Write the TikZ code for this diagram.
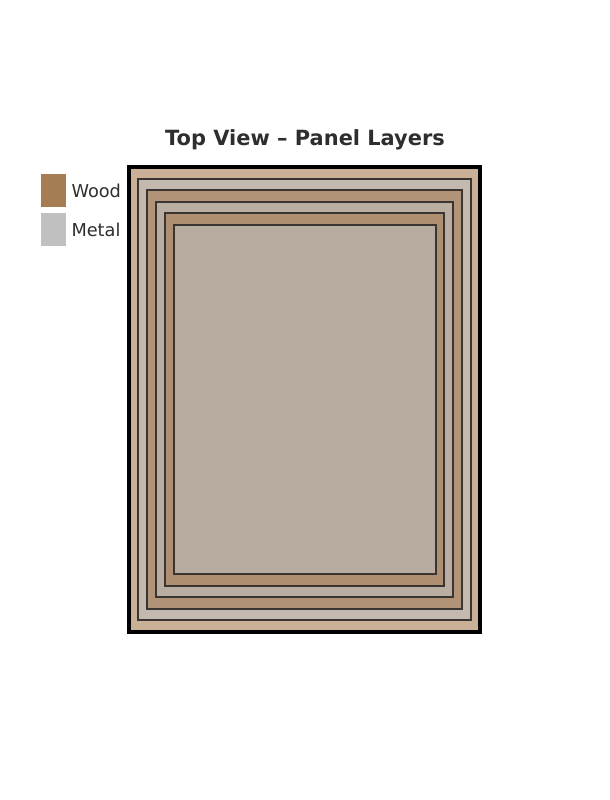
\documentclass[tikz,border=0pt]{standalone}
\usepackage{fontspec}
\setmainfont{DejaVu Sans}
\usetikzlibrary{positioning}
\definecolor{wood}{HTML}{A67C52}
\definecolor{metal}{HTML}{C0C0C0}
\definecolor{ink}{HTML}{2E2E2E}
\definecolor{rim}{HTML}{3A3530}
\begin{document}
\begin{tikzpicture}[x=0.75pt, y=-0.75pt, line join=miter,
	key/.style={minimum width=18.75pt, minimum height=24.75pt, inner sep=0pt},
	keytext/.style={text=ink, font=\fontsize{13.3}{16}\selectfont, inner sep=0pt, anchor=west}]
	\useasboundingbox (0,0) rectangle (610,800);
	\def\sx{8.9} % Bước lớp ngang
	\def\sy{11.6} % Bước lớp dọc
	\coordinate (A) at (129,167); % Góc trên trái
	\coordinate (B) at (480,632); % Góc dưới phải
	\node[text=ink, font=\bfseries\fontsize{15.7}{19}\selectfont, anchor=base] (title) at (305,145) {Top View – Panel Layers};
	\foreach \i/\lop in {0/wood,1/metal,2/wood,3/metal,4/wood,5/metal}
		\filldraw[fill=\lop, fill opacity=.6, draw=rim, line width=1.5pt]
			([shift={(\i*\sx,\i*\sy)}]A) rectangle ([shift={(-\i*\sx,-\i*\sy)}]B);
	\draw[line width=2.4pt] (A) rectangle (B);
	\node[key, fill=wood] (woodkey) at (53.5,190.5) {};
	\node[key, fill=metal] (metalkey) at (53.5,229.5) {};
	\node[keytext, right=3.75pt of woodkey] (woodtext) {Wood};
	\node[keytext, right=3.75pt of metalkey] (metaltext) {Metal};
\end{tikzpicture}
\end{document}
